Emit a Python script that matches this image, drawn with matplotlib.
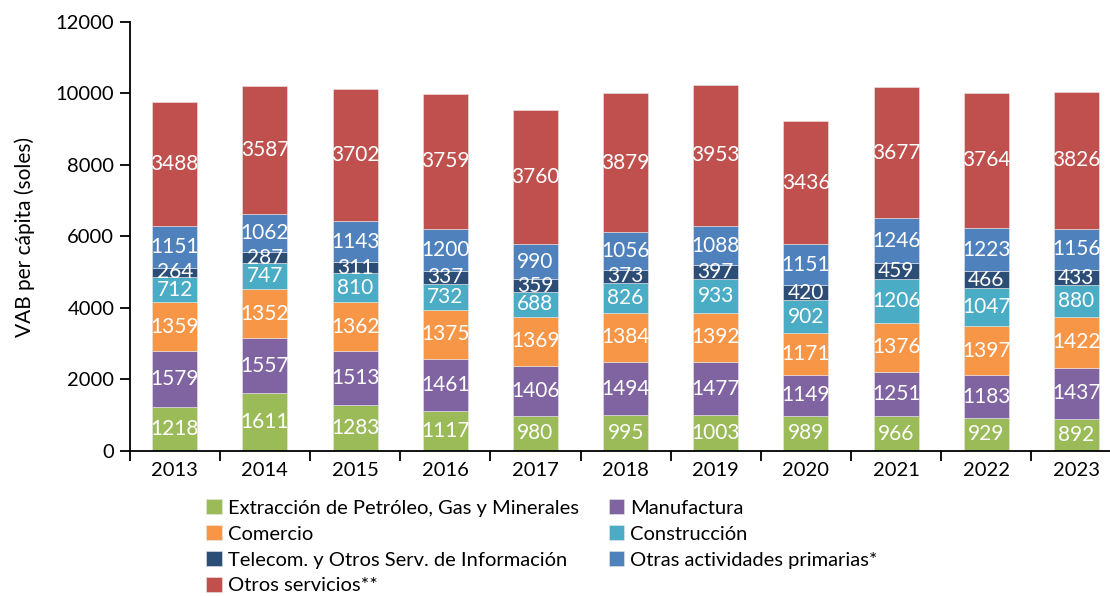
import numpy as np
import matplotlib.pyplot as plt

plt.rcParams['font.family'] = ['Lato', 'DejaVu Sans']

years = ['2013', '2014', '2015', '2016', '2017', '2018', '2019', '2020', '2021', '2022', '2023']

extraccion = [1218, 1611, 1283, 1117, 980, 995, 1003, 989, 966, 929, 892]
manufactura = [1579, 1557, 1513, 1461, 1406, 1494, 1477, 1149, 1251, 1183, 1437]
comercio = [1359, 1352, 1362, 1375, 1369, 1384, 1392, 1171, 1376, 1397, 1422]
construccion = [712, 747, 810, 732, 688, 826, 933, 902, 1206, 1047, 880]
telecom = [264, 287, 311, 337, 359, 373, 397, 420, 459, 466, 433]
otras_primarias = [1151, 1062, 1143, 1200, 990, 1056, 1088, 1151, 1246, 1223, 1156]
otros_servicios = [3488, 3587, 3702, 3759, 3760, 3879, 3953, 3436, 3677, 3764, 3826]

series = [
    ('Extracción de Petróleo, Gas y Minerales', extraccion, '#9BBB59'),
    ('Manufactura', manufactura, '#8064A2'),
    ('Comercio', comercio, '#F79646'),
    ('Construcción', construccion, '#4BACC6'),
    ('Telecom. y Otros Serv. de Información', telecom, '#2C4D75'),
    ('Otras actividades primarias*', otras_primarias, '#4F81BD'),
    ('Otros servicios**', otros_servicios, '#C0504D'),
]

fig = plt.figure(figsize=(11.1, 5.96), dpi=100)
ax = fig.add_axes([0.1168, 0.2433, 0.8936, 0.7198])

x = np.arange(len(years))
bottom = np.zeros(len(years))
handles = {}
for name, vals, color in series:
    vals = np.array(vals, dtype=float)
    bars = ax.bar(x, vals, 0.5, bottom=bottom, color=color,
                  edgecolor='#e8e8e8', linewidth=0.4, label=name)
    ax.bar_label(bars, labels=[str(int(v)) for v in vals], label_type='center',
                 color='white', fontsize=15)
    handles[name] = bars
    bottom += vals

ax.set_xlim(-0.5, len(years) - 0.5)
ax.set_ylim(0, 12000)
ax.set_yticks(range(0, 12001, 2000))
ax.set_xticks(x)
ax.set_xticklabels(years)
ax.set_xticks(np.arange(-0.5, len(years), 1), minor=True)
ax.tick_params(axis='x', which='major', length=0, labelsize=14.5, pad=8)
ax.tick_params(axis='x', which='minor', length=7, width=1.3, direction='out')
ax.tick_params(axis='y', length=7, width=1.3, labelsize=14.5, pad=4)
ax.spines['top'].set_visible(False)
ax.spines['right'].set_visible(False)
ax.spines['left'].set_linewidth(1.3)
ax.spines['bottom'].set_linewidth(1.3)
ax.set_ylabel('VAB per cápita (soles)', fontsize=15, labelpad=15)

# legend laid out row by row
order = ['Extracción de Petróleo, Gas y Minerales', 'Comercio',
         'Telecom. y Otros Serv. de Información', 'Otros servicios**',
         'Manufactura', 'Construcción', 'Otras actividades primarias*']
fig.legend([handles[n] for n in order], order, ncol=2, frameon=False,
           loc='upper left', bbox_to_anchor=(0.186, 0.162), fontsize=14.5,
           handlelength=0.75, handleheight=0.75, handletextpad=0.3,
           columnspacing=1.5, labelspacing=0.42, borderaxespad=0, borderpad=0)

fig.savefig('out.png', dpi=100)
